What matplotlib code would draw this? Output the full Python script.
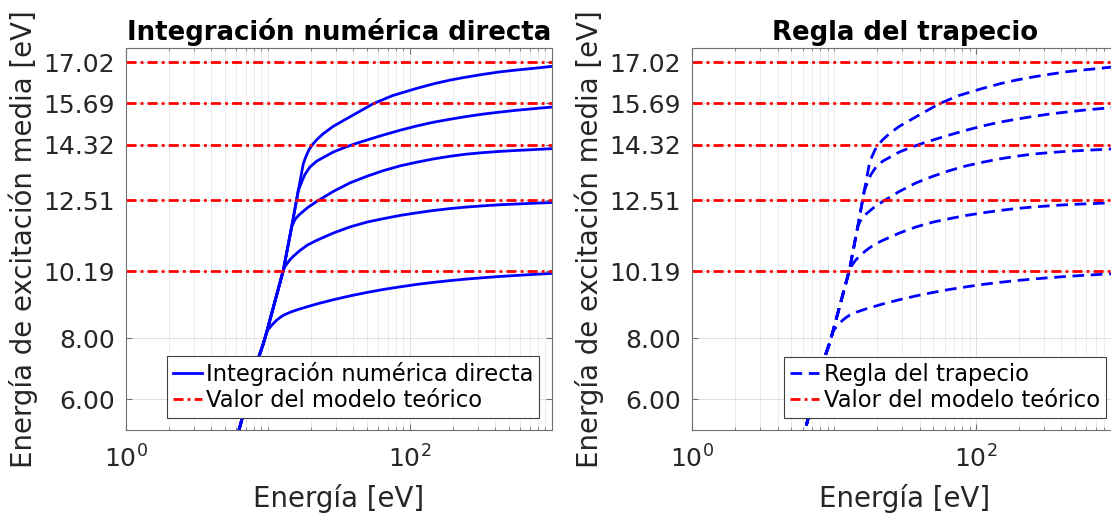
import matplotlib
matplotlib.use("Agg")
import matplotlib.pyplot as plt
from matplotlib.ticker import FixedLocator, NullFormatter

plt.rcParams['font.family'] = ['DejaVu Sans']
plt.rcParams['mathtext.fontset'] = 'dejavusans'
plt.rcParams['mathtext.default'] = 'regular'

# Theoretical mean excitation energies [eV] (red dash-dot lines)
model_values = [10.19, 12.51, 14.32, 15.69, 17.02]
ytick_values = [6.00, 8.00] + model_values

# Shared steep part of all curves: energy [eV] -> mean excitation energy [eV]
common_E = [5.9, 6.25, 8.69, 9.27, 9.79, 12.82, 14.68, 16.35, 17.74]
common_I = [4.57, 5.00, 7.44, 7.82, 8.20, 10.22, 11.64, 12.83, 13.71]
# number of shared points each curve keeps before it bends away
branch_at = [5, 6, 7, 8, 9]

branch1_E = [10.05, 10.6, 11.0, 11.51, 12.1, 12.82, 14.5, 16.8, 22.02, 28.85, 37.8, 50,
             64.9, 85, 111.4, 145, 191.3, 250, 328.5, 430, 563.9, 760, 1000]
branch1_I = [8.29, 8.42, 8.50, 8.59, 8.67, 8.75, 8.86, 8.96, 9.12, 9.26, 9.385, 9.50,
             9.595, 9.68, 9.76, 9.825, 9.885, 9.935, 9.98, 10.02, 10.055, 10.09, 10.12]

branch2_E = [13.2, 13.54, 14.2, 15.08, 16.8, 19.0, 22.02, 28.85, 37.8, 50, 64.9, 85,
             111.4, 145, 191.3, 250, 328.5, 430, 563.9, 760, 1000]
branch2_I = [10.35, 10.42, 10.555, 10.68, 10.87, 11.05, 11.20, 11.44, 11.64, 11.80, 11.91, 12.015,
             12.10, 12.175, 12.24, 12.29, 12.33, 12.365, 12.39, 12.415, 12.44]

branch3_E = [15.2, 15.66, 16.8, 19.0, 22.02, 28.85, 37.8, 50, 64.9, 85, 111.4, 145,
             191.3, 250, 328.5, 430, 563.9, 760, 1000]
branch3_I = [11.805, 11.915, 12.06, 12.27, 12.47, 12.80, 13.08, 13.30, 13.48, 13.635, 13.755, 13.86,
             13.95, 14.02, 14.07, 14.11, 14.14, 14.17, 14.20]

branch4_E = [17.27, 18.23, 19.76, 22.02, 28.85, 35, 42.1, 50, 64.9, 85, 111.4, 145,
             191.3, 250, 328.5, 430, 563.9, 760, 1000]
branch4_I = [13.11, 13.36, 13.60, 13.79, 14.09, 14.245, 14.375, 14.485, 14.645, 14.80, 14.94, 15.06,
             15.16, 15.25, 15.33, 15.395, 15.455, 15.51, 15.56]

branch5_E = [18.52, 19.45, 20.64, 22.02, 24.53, 28.85, 37.8, 55.2, 75, 111.4, 150,
             191.3, 250, 328.5, 430, 563.9, 760, 1000]
branch5_I = [13.945, 14.165, 14.34, 14.49, 14.69, 14.93, 15.24, 15.67, 15.93, 16.17, 16.33,
             16.44, 16.54, 16.63, 16.71, 16.77, 16.83, 16.89]

branches = [(branch1_E, branch1_I), (branch2_E, branch2_I), (branch3_E, branch3_I),
            (branch4_E, branch4_I), (branch5_E, branch5_I)]

minor_x = [m * 10 ** k for k in range(3) for m in range(2, 10)] + [10, 1000]

BLUE = "#0000ff"
RED = "#ff0000"
GRAY_TXT = "#262626"
DASHDOT = (0, (3.6, 1.5, 1.0, 1.5))
DASHED = (0, (4.2, 2.4))


def curves():
    for n, (bE, bI) in zip(branch_at, branches):
        yield common_E[:n] + bE, common_I[:n] + bI


def style_axes(ax, title):
    ax.set_xscale('log')
    ax.set_xlim(1, 1000)
    ax.set_ylim(5, 17.5)
    ax.set_xticks([1, 100], [r'$10^{0}$', r'$10^{2}$'])
    ax.xaxis.set_minor_locator(FixedLocator(minor_x))
    ax.xaxis.set_minor_formatter(NullFormatter())
    ax.set_yticks(ytick_values, [f'{v:.2f}' for v in ytick_values])
    ax.set_axisbelow(True)
    ax.grid(True, which='major', color='#dedede', lw=0.7)
    ax.grid(True, which='minor', axis='x', color='#ececec', lw=0.7)
    ax.tick_params(which='both', direction='in', top=True, right=True,
                   colors='#707070', labelcolor=GRAY_TXT, labelsize=18)
    ax.tick_params(which='major', length=4)
    ax.tick_params(which='minor', length=2.5)
    ax.tick_params(axis='x', pad=11)
    ax.tick_params(axis='y', pad=8)
    for sp in ax.spines.values():
        sp.set_color('#707070')
        sp.set_linewidth(0.8)
    ax.set_title(title, fontsize=18.7, fontweight='bold', pad=5.5)
    ax.set_xlabel('Energía [eV]', fontsize=19.8, color=GRAY_TXT)
    ax.set_ylabel('Energía de excitación media [eV]', fontsize=19.8, color=GRAY_TXT)
    ax.xaxis.set_label_coords(0.5, -0.141)
    ax.yaxis.set_label_coords(-0.207, 0.5)


fig = plt.figure(figsize=(11.11, 5.14), dpi=100)
ax1 = fig.add_axes([0.1134, 0.1634, 0.3834, 0.7438])
ax2 = fig.add_axes([0.6229, 0.1634, 0.3834, 0.7438])

for ax, title, style in [(ax1, 'Integración numérica directa', '-'),
                         (ax2, 'Regla del trapecio', DASHED)]:
    style_axes(ax, title)
    blue_lines = []
    for E, I in curves():
        ln, = ax.plot(E, I, color=BLUE, lw=2, ls=style, solid_joinstyle='round',
                      dash_joinstyle='round', dash_capstyle='butt')
        blue_lines.append(ln)
    red_lines = [ax.axhline(v, color=RED, lw=2, ls=DASHDOT) for v in model_values]
    leg = ax.legend([blue_lines[0], red_lines[0]], [title, 'Valor del modelo teórico'],
                    loc='lower right', fontsize=16.3, handlelength=1.3, handletextpad=0.2,
                    borderpad=0.25, labelspacing=0.15, borderaxespad=0.55,
                    fancybox=False, framealpha=1, edgecolor='#404040')
    leg.get_frame().set_linewidth(0.8)

fig.savefig('out.png', dpi=100)
